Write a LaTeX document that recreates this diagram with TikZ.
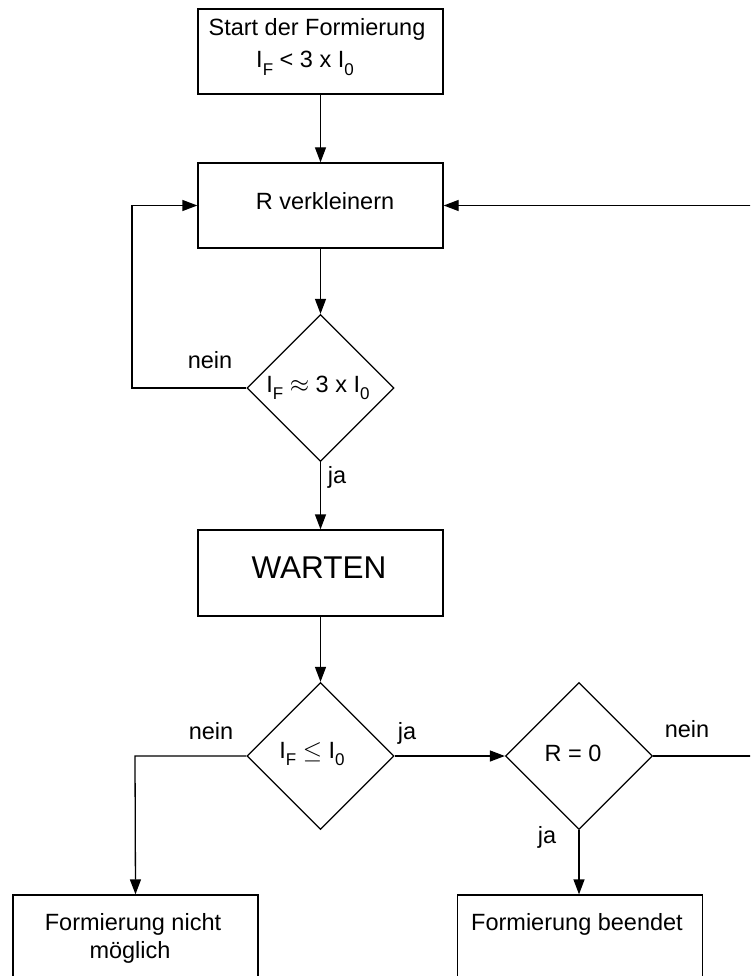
\documentclass[tikz,border=0pt]{standalone}
\usepackage{fontspec}
\setmainfont{Liberation Sans}
\usetikzlibrary{shapes.geometric,arrows.meta}
\newcommand\sbs[1]{\raisebox{-0.32em}{\fontsize{17}{17}\selectfont #1}}
\begin{document}
\begin{tikzpicture}[x=1pt,y=-1pt,
  line width=1.3pt,
  txt/.style={font=\fontsize{23.5}{28}\selectfont, inner sep=0pt, anchor=base},
  box/.style={draw, rectangle, minimum width=245pt, minimum height=85pt, inner sep=0pt},
  dia/.style={draw, diamond, minimum width=147pt, minimum height=147pt, inner sep=0pt},
  arr/.style={-{Triangle[length=15pt,width=11pt]}},
  line/.style={draw}]
\useasboundingbox (0,0) rectangle (750,976);
\clip (0,0) rectangle (750,976);
% boxes
\node[box] (b1) at (320.5,51.5) {};
\node[box] (b2) at (320.5,205.5) {};
\node[box, minimum height=86pt] (w) at (320.5,573) {};
\node[box, minimum height=90pt] (nm) at (135.5,940) {};
\node[box, minimum height=90pt] (be) at (580,940) {};
% diamonds
\node[dia] (d1) at (320.5,388) {};
\node[dia] (d2) at (320.5,756) {};
\node[dia] (d3) at (579,756) {};
% texts
\node[txt] (t1a) at (317,36) {Start der Formierung};
\node[txt] (t1b) at (305,68) {I\sbs{F} < 3 x I\sbs{0}};
\node[txt] (t2) at (325,210) {R verkleinern};
\node[txt, font=\fontsize{31.5}{36}\selectfont] (tw) at (319,578) {WARTEN};
\node[txt] (td1) at (318,392) {I\sbs{F} $\approx$ 3 x I\sbs{0}};
\node[txt] (td2) at (312,758) {I\sbs{F} $\leq$ I\sbs{0}};
\node[txt] (td3) at (573,761) {R = 0};
\node[txt] (tnm1) at (133,930) {Formierung nicht};
\node[txt] (tnm2) at (130,958) {möglich};
\node[txt] (tbe) at (577,930) {Formierung beendet};
% labels
\node[txt] (l1n) at (210,368) {nein};
\node[txt] (l1j) at (337,483) {ja};
\node[txt] (l2n) at (211,739) {nein};
\node[txt] (l2j) at (407,739) {ja};
\node[txt] (l3n) at (687,737) {nein};
\node[txt] (l3j) at (547,843) {ja};
% connectors
\coordinate (c1) at (132,388);
\coordinate (c2) at (135,756);
\coordinate (c3) at (770,756);
\draw[arr] (b1.south) -- (b2.north);
\draw[arr] (b2.south) -- (d1.north);
\draw[arr] (d1.west) -- (c1) |- (b2.west);
\draw[arr] (d1.south) -- (w.north);
\draw[arr] (w.south) -- (d2.north);
\draw[arr] (d2.east) -- (d3.west);
\draw[arr] (d2.west) -- (c2) -- (nm.north);
\draw[arr] (d3.south) -- (d3.south |- be.north);
\draw[arr] (d3.east) -- (c3) |- (b2.east);
\end{tikzpicture}
\end{document}
